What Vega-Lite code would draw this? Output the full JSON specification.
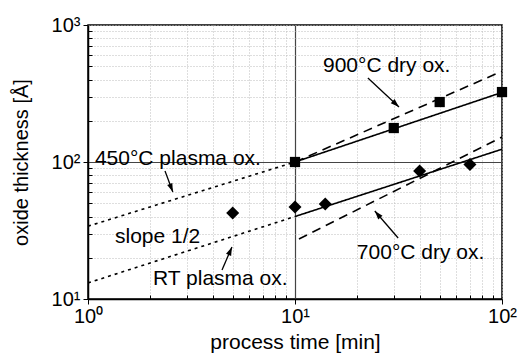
{
  "$schema": "https://vega.github.io/schema/vega-lite/v6.json",
  "width": 414,
  "height": 274,
  "autosize": "none",
  "padding": {"left": 88, "top": 25, "right": 18, "bottom": 58},
  "background": "white",
  "config": {
    "font": "Liberation Sans",
    "view": {"stroke": "black", "strokeWidth": 1.5},
    "axis": {
      "domainColor": "black",
      "domainWidth": 1.5,
      "tickColor": "black",
      "tickWidth": 1,
      "labelColor": "black",
      "titleColor": "black",
      "labelFont": "Liberation Sans",
      "titleFont": "Liberation Sans",
      "titleFontWeight": "normal",
      "labelFontSize": 20,
      "grid": true
    }
  },
  "datasets": {
    "curves": [
      {"series": "900°C fit", "kind": "fit", "time": 10, "thickness": 100},
      {"series": "900°C fit", "kind": "fit", "time": 100, "thickness": 322},
      {"series": "900°C dry ox. model", "kind": "model", "time": 10, "thickness": 100},
      {"series": "900°C dry ox. model", "kind": "model", "time": 100, "thickness": 460},
      {"series": "700°C fit", "kind": "fit", "time": 10, "thickness": 40},
      {"series": "700°C fit", "kind": "fit", "time": 100, "thickness": 124},
      {"series": "700°C dry ox. model", "kind": "model", "time": 10.45, "thickness": 27.4},
      {"series": "700°C dry ox. model", "kind": "model", "time": 100, "thickness": 152},
      {"series": "450°C plasma ox.", "kind": "slope 1/2", "time": 1, "thickness": 34},
      {"series": "450°C plasma ox.", "kind": "slope 1/2", "time": 10, "thickness": 100},
      {"series": "RT plasma ox.", "kind": "slope 1/2", "time": 1, "thickness": 13.1},
      {"series": "RT plasma ox.", "kind": "slope 1/2", "time": 10, "thickness": 40}
    ],
    "measured": [
      {"series": "900°C", "time": 10, "thickness": 100},
      {"series": "900°C", "time": 30, "thickness": 177},
      {"series": "900°C", "time": 50, "thickness": 274},
      {"series": "900°C", "time": 100, "thickness": 324},
      {"series": "700°C", "time": 5, "thickness": 42.4},
      {"series": "700°C", "time": 10, "thickness": 47},
      {"series": "700°C", "time": 14, "thickness": 49.4},
      {"series": "700°C", "time": 40, "thickness": 86},
      {"series": "700°C", "time": 70, "thickness": 96}
    ],
    "labels": [
      {"text": "450°C plasma ox.", "time": 1.08, "thickness": 95},
      {"text": "900°C dry ox.", "time": 13.65, "thickness": 454},
      {"text": "700°C dry ox.", "time": 19.9, "thickness": 19.6},
      {"text": "slope 1/2", "time": 1.35, "thickness": 25.6},
      {"text": "RT plasma ox.", "time": 2.06, "thickness": 12.65}
    ],
    "arrows": [
      {"id": "450", "time": 2.355, "thickness": 86, "tipTime": 2.57, "tipThickness": 60.4},
      {"id": "900", "time": 22.5, "thickness": 410, "tipTime": 31.8, "tipThickness": 252},
      {"id": "700", "time": 31.5, "thickness": 27.9, "tipTime": 24.3, "tipThickness": 43.9},
      {"id": "RT", "time": 4.44, "thickness": 16.3, "tipTime": 4.96, "tipThickness": 24.0}
    ]
  },
  "encoding": {
    "x": {
      "field": "time",
      "type": "quantitative",
      "scale": {"type": "log", "domain": [1, 100], "nice": false},
      "axis": {
        "title": "process time [min]",
        "titleFontSize": 21,
        "titlePadding": 5,
        "values": [1, 2, 3, 4, 5, 6, 7, 8, 9, 10, 20, 30, 40, 50, 60, 70, 80, 90, 100],
        "labelExpr": "datum.value == 1 ? '10⁰' : datum.value == 10 ? '10¹' : datum.value == 100 ? '10²' : ''",
        "labelPadding": 2,
        "labelFlush": false,
        "labelOverlap": false,
        "tickSize": {"condition": {"test": "indexof([1, 10, 100], datum.value) >= 0", "value": 5}, "value": -4},
        "gridColor": {"condition": {"test": "datum.value == 10", "value": "#444444"}, "value": "#bdbdbd"},
        "gridDash": {"condition": {"test": "datum.value == 10", "value": []}, "value": [1, 2]},
        "gridWidth": {"condition": {"test": "datum.value == 10", "value": 1.2}, "value": 1}
      }
    },
    "y": {
      "field": "thickness",
      "type": "quantitative",
      "scale": {"type": "log", "domain": [10, 1000], "nice": false},
      "axis": {
        "title": "oxide thickness [Å]",
        "titleFontSize": 20,
        "titlePadding": 20,
        "values": [10, 20, 30, 40, 50, 60, 70, 80, 90, 100, 200, 300, 400, 500, 600, 700, 800, 900, 1000],
        "labelExpr": "datum.value == 10 ? '10¹' : datum.value == 100 ? '10²' : datum.value == 1000 ? '10³' : ''",
        "labelPadding": 3,
        "labelFlush": false,
        "labelOverlap": false,
        "tickSize": {"condition": {"test": "indexof([10, 100, 1000], datum.value) >= 0", "value": 5}, "value": -4},
        "gridColor": {"condition": {"test": "datum.value == 100", "value": "#444444"}, "value": "#bdbdbd"},
        "gridDash": {"condition": {"test": "datum.value == 100", "value": []}, "value": [1, 2]},
        "gridWidth": {"condition": {"test": "datum.value == 100", "value": 1.2}, "value": 1}
      }
    }
  },
  "layer": [
    {
      "data": {"name": "curves"},
      "mark": {"type": "line", "color": "black", "strokeWidth": 1.6, "clip": true},
      "encoding": {
        "detail": {"field": "series"},
        "strokeDash": {
          "field": "kind",
          "type": "nominal",
          "scale": {"domain": ["fit", "model", "slope 1/2"], "range": [[1, 0], [9, 6], [3, 4]]},
          "legend": null
        }
      }
    },
    {
      "data": {"name": "measured"},
      "mark": {"type": "point", "filled": true, "color": "black", "opacity": 1, "clip": false},
      "encoding": {
        "shape": {
          "field": "series",
          "type": "nominal",
          "scale": {"domain": ["900°C", "700°C"], "range": ["square", "diamond"]},
          "legend": null
        },
        "size": {
          "field": "series",
          "type": "nominal",
          "scale": {"domain": ["900°C", "700°C"], "range": [105, 170]},
          "legend": null
        }
      }
    },
    {
      "data": {"name": "arrows"},
      "mark": {"type": "rule", "color": "black", "strokeWidth": 1.3},
      "encoding": {
        "x2": {"field": "tipTime"},
        "y2": {"field": "tipThickness"}
      }
    },
    {
      "data": {"name": "arrows"},
      "transform": [{"filter": "datum.id == '450'"}],
      "mark": {"type": "point", "filled": true, "color": "black", "opacity": 1, "shape": "M0,0L-0.32,1L0.32,1Z", "size": 300, "angle": 159},
      "encoding": {
        "x": {"field": "tipTime", "type": "quantitative"},
        "y": {"field": "tipThickness", "type": "quantitative"}
      }
    },
    {
      "data": {"name": "arrows"},
      "transform": [{"filter": "datum.id == '900'"}],
      "mark": {"type": "point", "filled": true, "color": "black", "opacity": 1, "shape": "M0,0L-0.32,1L0.32,1Z", "size": 300, "angle": 133},
      "encoding": {
        "x": {"field": "tipTime", "type": "quantitative"},
        "y": {"field": "tipThickness", "type": "quantitative"}
      }
    },
    {
      "data": {"name": "arrows"},
      "transform": [{"filter": "datum.id == '700'"}],
      "mark": {"type": "point", "filled": true, "color": "black", "opacity": 1, "shape": "M0,0L-0.32,1L0.32,1Z", "size": 300, "angle": 320},
      "encoding": {
        "x": {"field": "tipTime", "type": "quantitative"},
        "y": {"field": "tipThickness", "type": "quantitative"}
      }
    },
    {
      "data": {"name": "arrows"},
      "transform": [{"filter": "datum.id == 'RT'"}],
      "mark": {"type": "point", "filled": true, "color": "black", "opacity": 1, "shape": "M0,0L-0.32,1L0.32,1Z", "size": 300, "angle": 23},
      "encoding": {
        "x": {"field": "tipTime", "type": "quantitative"},
        "y": {"field": "tipThickness", "type": "quantitative"}
      }
    },
    {
      "data": {"name": "labels"},
      "mark": {"type": "text", "align": "left", "baseline": "alphabetic", "fontSize": 21, "color": "black", "font": "Liberation Sans"},
      "encoding": {
        "text": {"field": "text"}
      }
    }
  ]
}
